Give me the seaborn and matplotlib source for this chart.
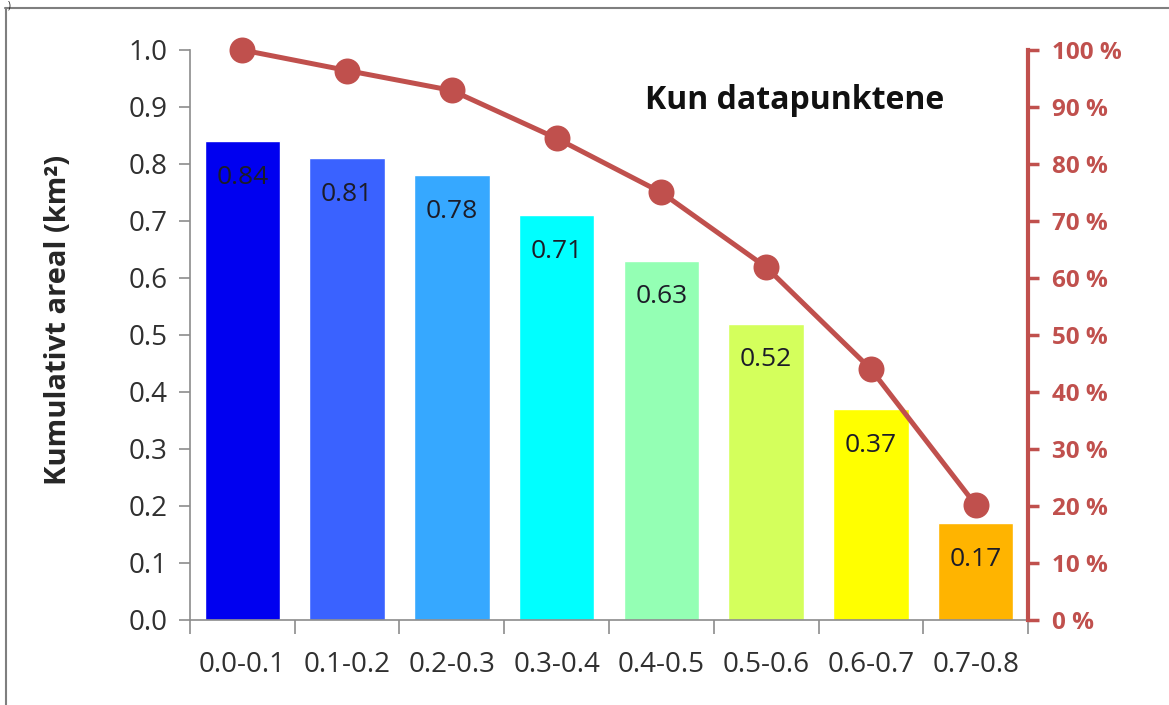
import matplotlib
matplotlib.use('Agg')
import matplotlib.pyplot as plt
from matplotlib.lines import Line2D
from matplotlib.ticker import FuncFormatter, FixedLocator
import numpy as np
import pandas as pd
import seaborn as sns

# data
categories = ['0.0-0.1', '0.1-0.2', '0.2-0.3', '0.3-0.4', '0.4-0.5', '0.5-0.6', '0.6-0.7', '0.7-0.8']
areal = [0.84, 0.81, 0.78, 0.71, 0.63, 0.52, 0.37, 0.17]
andel = [100.0, 96.4, 92.9, 84.5, 75.0, 61.9, 44.0, 20.2]
bar_colors = ['#0000F0', '#3A62FF', '#36A8FF', '#00FFFF', '#94FFB4', '#D4FF5C', '#FFFF00', '#FFB400']

red = '#C0504D'
grey = '#8C8C8C'

sns.set_style('white')
plt.rcParams['font.family'] = ['Open Sans', 'DejaVu Sans']

df = pd.DataFrame({'klasse': categories, 'areal': areal, 'andel': andel})

fig = plt.figure(figsize=(11.69, 7.05), dpi=100)
ax = fig.add_axes([0.1625, 0.1206, 0.7169, 0.8085])

sns.barplot(data=df, x='klasse', y='areal', hue='klasse', palette=bar_colors,
            legend=False, width=0.72, saturation=1, ax=ax)

# value labels inside the top of each bar
for patch, v in zip(ax.patches, areal):
    ax.annotate(f'{v:.2f}', (patch.get_x() + patch.get_width() / 2, patch.get_height()),
                xytext=(0, -26), textcoords='offset points', ha='center', va='center',
                fontsize=19, color='#1C1C28')

ax.set_ylim(0, 1.0)
ax.set_yticks(np.arange(0, 1.01, 0.1))
ax.yaxis.set_major_formatter(FuncFormatter(lambda v, _: f'{v:.1f}'))
ax.set_xlabel('')
ax.set_ylabel('Kumulativt areal (km²)', fontsize=21, fontweight='bold', va='center')
ax.yaxis.set_label_coords(-0.157, 0.526)

ax2 = ax.twinx()
sns.pointplot(data=df, x='klasse', y='andel', color=red, markers='o',
              markersize=16, linewidth=3.6, ax=ax2)
for art in ax2.lines + ax2.collections:
    art.set_clip_on(False)
ax2.set_ylim(0, 100)
ax2.set_yticks(np.arange(0, 101, 10))
ax2.yaxis.set_major_formatter(FuncFormatter(lambda v, _: f'{v:.0f} %'))
ax2.set_ylabel('')
ax2.set_xlabel('')

ax.set_xlim(-0.5, len(categories) - 0.5)

# spines
for s in ['top', 'right']:
    ax.spines[s].set_visible(False)
for s in ['top', 'left', 'bottom']:
    ax2.spines[s].set_visible(False)
ax.spines['left'].set_color(grey)
ax.spines['bottom'].set_color(grey)
ax.spines['left'].set_linewidth(1.2)
ax.spines['bottom'].set_linewidth(1.2)
ax2.spines['right'].set_color(red)
ax2.spines['right'].set_linewidth(3)

# ticks: category boundaries on x like Excel
ax.xaxis.set_minor_locator(FixedLocator(np.arange(-0.5, len(categories), 1.0)))
ax.tick_params(axis='x', which='major', length=0, labelsize=20, labelcolor='#303030', pad=22)
ax.tick_params(axis='x', which='minor', length=10, width=1.2, color=grey, direction='out', bottom=True)
ax.tick_params(axis='y', which='major', length=8, width=1.2, color=grey, direction='out',
               left=True, labelsize=20, labelcolor='#303030', pad=8)
ax2.tick_params(axis='y', which='major', length=8, width=2.5, color=red, direction='out',
                right=True, labelsize=17.5, labelcolor=red, pad=9)
for lbl in ax2.get_yticklabels():
    lbl.set_fontweight('bold')

ax.text(0.722, 0.912, 'Kun datapunktene', transform=ax.transAxes, ha='center', va='center',
        fontsize=23, fontweight='bold', color='#111111')

# outer frame of the chart area (cropped screenshot)
fig.add_artist(Line2D([6 / 1169, 6 / 1169], [0, 1 - 8 / 705], transform=fig.transFigure,
                      color='#7F7F7F', lw=1.5))
fig.add_artist(Line2D([5 / 1169, 1], [1 - 8 / 705, 1 - 8 / 705], transform=fig.transFigure,
                      color='#7F7F7F', lw=1.5))
fig.text(8 / 1169, 1, ')', fontsize=7, ha='left', va='top', color='#222222')

fig.savefig('out.png', dpi=100)
